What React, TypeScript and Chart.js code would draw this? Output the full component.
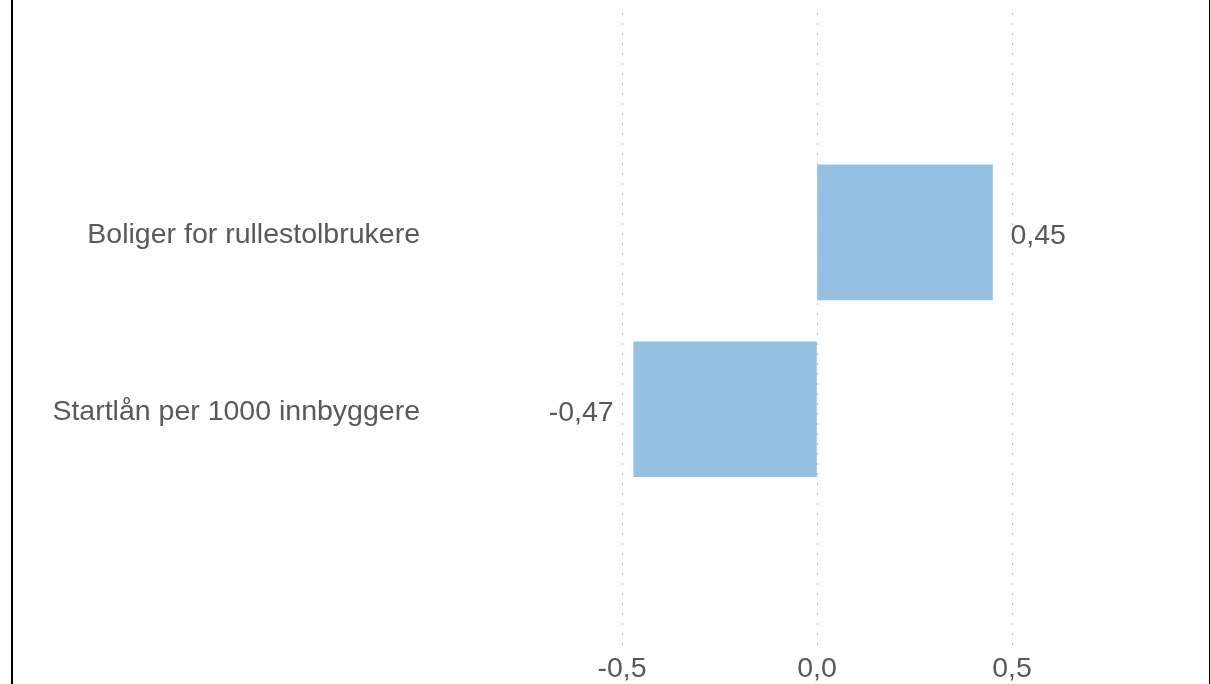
import React, { useEffect, useRef } from "react";
import { Chart, registerables } from "chart.js";

Chart.register(...registerables);

const categories: string[] = ["Boliger for rullestolbrukere", "Startlån per 1000 innbyggere"];
const values: number[] = [0.45, -0.47];
const xTicks: number[] = [-0.5, 0, 0.5];

const FONT = "'Liberation Sans', Arial, sans-serif";
const TEXT = "#595959";
const BAR = "#96C0E1";
const SIZE = 28.5;

const fmt = (v: number, d: number) => v.toFixed(d).replace(".", ",");

const valueLabels = {
  id: "valueLabels",
  afterDatasetsDraw(chart: any) {
    const ctx = chart.ctx;
    const meta = chart.getDatasetMeta(0);
    ctx.save();
    ctx.font = `${SIZE}px ${FONT}`;
    ctx.fillStyle = TEXT;
    ctx.textBaseline = "alphabetic";
    meta.data.forEach((el: any, i: number) => {
      const v = values[i];
      if (v >= 0) {
        ctx.textAlign = "left";
        ctx.fillText(fmt(v, 2), el.x + 18, el.y + 12);
      } else {
        ctx.textAlign = "right";
        ctx.fillText(fmt(v, 2), el.x - 20, el.y + 11.5);
      }
    });
    ctx.restore();
  },
};

export default function App() {
  const ref = useRef<HTMLCanvasElement | null>(null);
  useEffect(() => {
    if (!ref.current) return;
    const chart = new Chart(ref.current, {
      type: "bar",
      data: {
        datasets: [
          {
            data: values.map((v, i) => ({ x: v, y: i + 1 })),
            backgroundColor: BAR,
            borderWidth: 0,
            barThickness: 135,
          },
        ],
      },
      options: {
        indexAxis: "y",
        animation: false,
        responsive: false,
        maintainAspectRatio: false,
        layout: { padding: { top: 13, right: 3, left: 0, bottom: 0 } },
        plugins: { legend: { display: false }, tooltip: { enabled: false } },
        scales: {
          x: {
            type: "linear",
            min: -1,
            max: 1,
            afterBuildTicks: (s: any) => {
              s.ticks = xTicks.map((v) => ({ value: v }));
            },
            afterFit: (s: any) => {
              s.height = 36;
              s.paddingLeft = 0;
              s.paddingRight = 0;
            },
            grid: { color: "#c4c4c4", lineWidth: 1, drawTicks: false },
            border: { display: false, dash: [2, 8] },
            ticks: {
              color: TEXT,
              font: { family: FONT, size: SIZE },
              padding: 4,
              maxRotation: 0,
              callback: (v: any) => fmt(Number(v), 1),
            },
          },
          y: {
            type: "linear",
            reverse: true,
            offset: false,
            min: -0.24,
            max: 3.35,
            afterBuildTicks: (s: any) => {
              s.ticks = categories.map((_, i) => ({ value: i + 1 }));
            },
            afterFit: (s: any) => {
              s.width = 427;
              s.paddingTop = 0;
              s.paddingBottom = 0;
            },
            grid: { display: false, drawTicks: false, offset: false },
            border: { display: false },
            ticks: {
              color: TEXT,
              font: { family: FONT, size: SIZE },
              padding: 7,
              labelOffset: 3,
              callback: (v: any) => categories[Number(v) - 1] ?? "",
            },
          },
        },
      },
      plugins: [valueLabels],
    } as any);
    return () => chart.destroy();
  }, []);
  return (
    <div style={{ position: "fixed", left: 0, top: 0, width: 1210, height: 684, background: "#fff" }}>
      <canvas ref={ref} width={1210} height={684} style={{ position: "absolute", left: 0, top: 0, width: 1210, height: 684 }} />
      <div
        style={{
          position: "absolute",
          left: 11,
          top: 0,
          width: 1199,
          height: 684,
          boxSizing: "border-box",
          borderLeft: "2px solid #000",
          borderRight: "1px solid #000",
          pointerEvents: "none",
        }}
      />
    </div>
  );
}
